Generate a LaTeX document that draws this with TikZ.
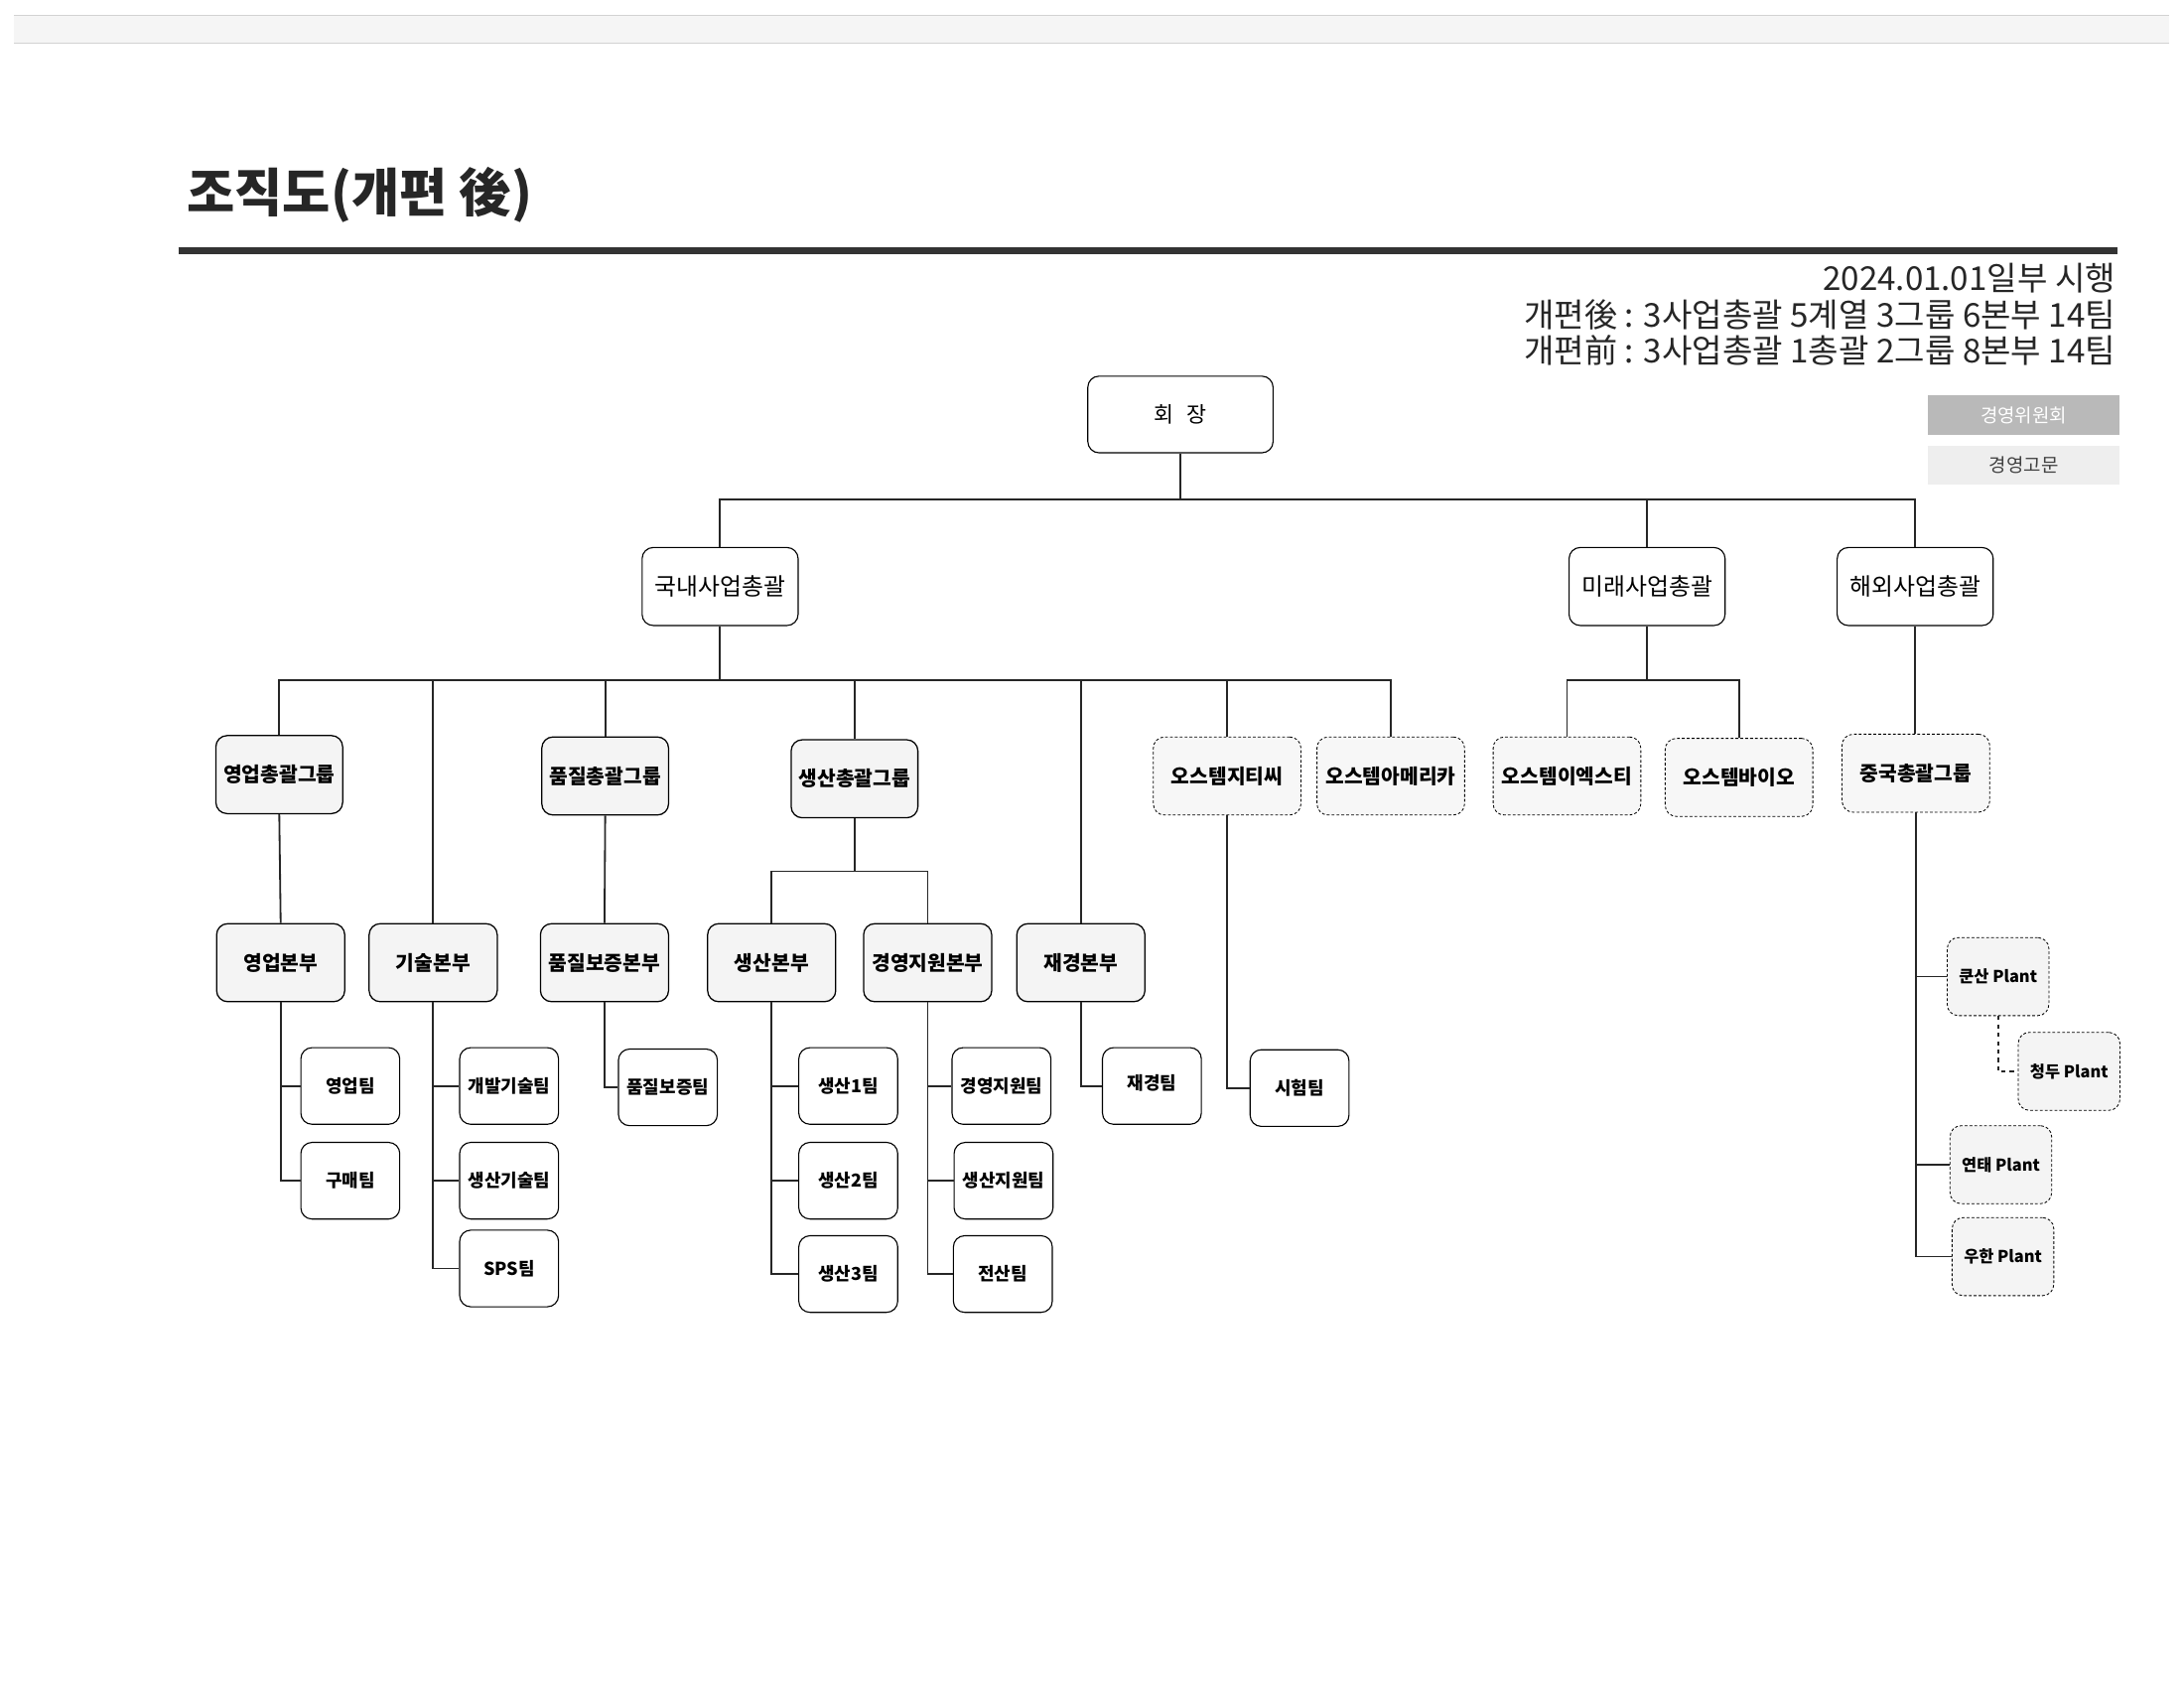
\documentclass[tikz,border=0pt]{standalone}
\usepackage{fontspec}
\setmainfont{Noto Sans CJK KR}
\usepackage{tikz}
\usetikzlibrary{positioning,calc}

\begin{document}
\begin{tikzpicture}[
    x=1pt, y=-1pt,
    conn/.style={line width=1.3pt, black!85},
    finedash/.style={dash pattern=on 2pt off 1.5pt},
    topbox/.style={draw, rounded corners=8pt, fill=white, line width=0.8pt, minimum width=133pt, minimum height=55pt, font=\fontsize{15.5}{17}\selectfont},
    chongbox/.style={draw, rounded corners=8pt, fill=white, line width=0.8pt, minimum width=112pt, minimum height=56pt, font=\fontsize{17}{19}\selectfont},
    grpbox/.style={draw, rounded corners=8pt, fill=gray!9, line width=0.9pt, minimum width=91pt, minimum height=56pt, font=\bfseries\fontsize{14.5}{16}\selectfont},
    subbox/.style={draw, finedash, rounded corners=8pt, fill=gray!6, line width=0.6pt, minimum width=106pt, minimum height=56pt, font=\bfseries\fontsize{14.5}{16}\selectfont},
    bonbox/.style={draw, rounded corners=8pt, fill=gray!9, line width=0.9pt, minimum width=92pt, minimum height=56pt, font=\bfseries\fontsize{14.5}{16}\selectfont},
    teambox/.style={draw, rounded corners=8pt, fill=white, line width=0.8pt, minimum width=71pt, minimum height=55pt, font=\bfseries\fontsize{12.8}{14}\selectfont},
    plantbox/.style={draw, finedash, rounded corners=8pt, fill=gray!9, line width=0.6pt, minimum width=73pt, minimum height=56pt, font=\bfseries\fontsize{11.7}{13}\selectfont},
    legend/.style={minimum width=138pt, minimum height=28pt, font=\fontsize{13.5}{15}\selectfont}
  ]
  \useasboundingbox (0,0) rectangle (1568,1211.6);

  % 상단 띠
  \fill[gray!8] (10,11) rectangle (1557,31);
  \draw[gray!35, line width=0.6pt] (10,11) -- (1557,11);
  \draw[gray!35, line width=0.6pt] (10,31) -- (1557,31);

  % 제목
  \node[anchor=west, inner sep=0, font=\bfseries\fontsize{37.4}{41}\selectfont, text=black!85] (title) at (134,140) {조직도(개편 後)};
  \draw[line width=5pt, black!80] (128,180) -- (1520,180);

  \node[anchor=north east, inner sep=0, align=right, font=\fontsize{23.6}{26}\selectfont, text=black!85] (info) at (1519,189)
    {2024.01.01일부 시행\\개편後 : 3사업총괄 5계열 3그룹 6본부 14팀\\개편前 : 3사업총괄 1총괄 2그룹 8본부 14팀};

  % 범례
  \node[legend, fill=gray!55, text=white] (wiwon) at (1453,298) {경영위원회};
  \node[legend, fill=gray!13, text=black!75] (gomun) at (1453,334) {경영고문};

  % 회장, 사업총괄
  \node[topbox] (hj) at (847.5,297.5) {회\hspace{0.6em}장};
  \node[chongbox] (guknae) at (517,421) {국내사업총괄};
  \node[chongbox] (mirae) at (1182.5,421) {미래사업총괄};
  \node[chongbox] (haeoe) at (1375,421) {해외사업총괄};

  % 그룹, 계열사
  \node[grpbox] (yg) at (200.5,556) {영업총괄그룹};
  \node[grpbox] (pg) at (434.5,557) {품질총괄그룹};
  \node[grpbox] (sg) at (613.5,559) {생산총괄그룹};
  \node[subbox] (gtc) at (881,557) {오스템지티씨};
  \node[subbox] (ame) at (998.5,557) {오스템아메리카};
  \node[subbox] (ext) at (1125,557) {오스템이엑스티};
  \node[subbox] (bio) at (1248.5,558) {오스템바이오};
  \node[subbox] (cn) at (1375.5,555) {중국총괄그룹};

  % 본부
  \node[bonbox] (yb) at (201.5,691) {영업본부};
  \node[bonbox] (gb) at (311,691) {기술본부};
  \node[bonbox] (qb) at (434,691) {품질보증본부};
  \node[bonbox] (sb) at (554,691) {생산본부};
  \node[bonbox] (mb) at (666,691) {경영지원본부};
  \node[bonbox] (jb) at (776,691) {재경본부};

  % 팀
  \node[teambox] (yt) at (251.5,779.5) {영업팀};
  \node[teambox] (gm) at (251.5,847.5) {구매팀};
  \node[teambox] (gbt) at (365.5,779.5) {개발기술팀};
  \node[teambox] (sgt) at (365.5,847.5) {생산기술팀};
  \node[teambox] (sps) at (365.5,910.5) {SPS팀};
  \node[teambox] (qt) at (479.5,780.5) {품질보증팀};
  \node[teambox] (s1) at (609,779.5) {생산1팀};
  \node[teambox] (s2) at (609,847.5) {생산2팀};
  \node[teambox] (s3) at (609,914.5) {생산3팀};
  \node[teambox] (mt) at (719,779.5) {경영지원팀};
  \node[teambox] (sjt) at (720.5,847.5) {생산지원팀};
  \node[teambox] (jst) at (720,914.5) {전산팀};
  \node[teambox] (jt) at (827,779.5) {\raisebox{5pt}{재경팀}};
  \node[teambox] (st) at (933,781) {시험팀};

  % 중국 Plant
  \node[plantbox] (ks) at (1434.5,701) {쿤산 Plant};
  \node[plantbox] (cd) at (1485.5,769) {청두 Plant};
  \node[plantbox] (yt2) at (1436.5,836) {연태 Plant};
  \node[plantbox] (wh) at (1438,902) {우한 Plant};

  % 연결선
  \draw[conn] (hj.south) -- ++(0,33) coordinate (b0);
  \draw[conn] (guknae.north) |- (b0) -| (haeoe.north);
  \draw[conn] (mirae.north) -- (mirae.north |- b0);

  \draw[conn] (guknae.south) -- ++(0,39) coordinate (b1);
  \draw[conn] (yg.north) |- (b1) -| (ame.north);
  \draw[conn] (gb.north) -- (gb.north |- b1);
  \draw[conn] (pg.north) -- (pg.north |- b1);
  \draw[conn] (sg.north) -- (sg.north |- b1);
  \draw[conn] (jb.north) -- (jb.north |- b1);
  \draw[conn] (gtc.north) -- (gtc.north |- b1);

  \draw[conn] (mirae.south) -- ++(0,39) coordinate (b2);
  \draw[conn] (ext.north) |- (b2) -| (bio.north);
  \draw[conn] (haeoe.south) -- (haeoe.south |- cn.north);

  \draw[conn] (yg.south) -- (yb.north);
  \draw[conn] (pg.south) -- (qb.north);
  \draw[conn] (sg.south) -- ++(0,38) coordinate (b3);
  \draw[conn] (sb.north) |- (b3) -| (mb.north);

  \draw[conn] (yb.south) |- (yt.west);
  \draw[conn] (yb.south) |- (gm.west);
  \draw[conn] (gb.south) |- (gbt.west);
  \draw[conn] (gb.south) |- (sgt.west);
  \draw[conn] (gb.south) |- (sps.west);
  \draw[conn] (qb.south) |- (qt.west);
  \draw[conn] (sb.south) |- (s1.west);
  \draw[conn] (sb.south) |- (s2.west);
  \draw[conn] (sb.south) |- (s3.west);
  \draw[conn] (mb.south) |- (mt.west);
  \draw[conn] (mb.south) |- (sjt.west);
  \draw[conn] (mb.south) |- (jst.west);
  \draw[conn] (jb.south) |- (jt.west);
  \draw[conn] (gtc.south) |- (st.west);

  \draw[conn] (cn.south) |- (ks.west);
  \draw[conn] (cn.south) |- (yt2.west);
  \draw[conn] (cn.south) |- (wh.west);
  \draw[conn, dashed] (ks.south) |- (cd.west);
\end{tikzpicture}
\end{document}
